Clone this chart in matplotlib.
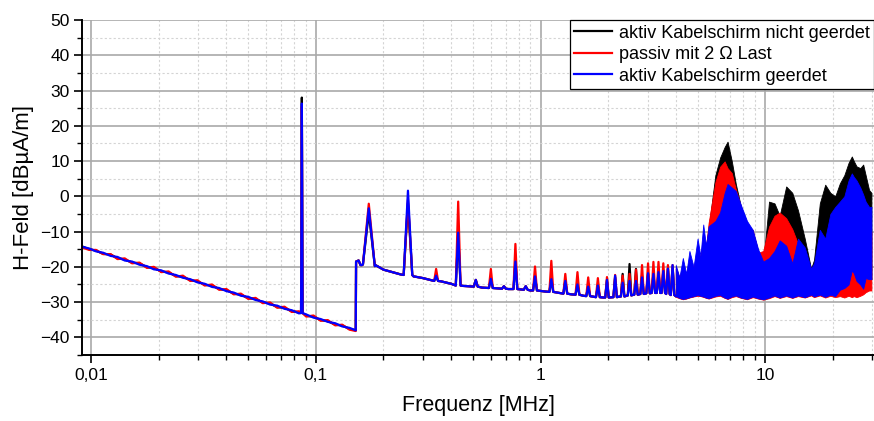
import numpy as np
import matplotlib
matplotlib.use("Agg")
import matplotlib.pyplot as plt
from matplotlib.ticker import FixedLocator, FuncFormatter, MultipleLocator

plt.rcParams['font.family'] = ['Liberation Sans', 'DejaVu Sans']

# --- Daten ---
labels = ["aktiv Kabelschirm nicht geerdet", "passiv mit 2 \u03a9 Last",
          "aktiv Kabelschirm geerdet"]
colors = ["black", "#ff0000", "#0000ff"]

# niederfrequenter Abfall bis 0,15 MHz
lf_f = [0.0091, 0.0098, 0.0105, 0.0113, 0.0122, 0.0131, 0.0141, 0.0152, 0.0164,
        0.0177, 0.019, 0.0205, 0.0221, 0.0238, 0.0256, 0.0276, 0.0297, 0.032,
        0.0345, 0.0371, 0.04, 0.0431, 0.0464, 0.05, 0.0539, 0.058, 0.0625,
        0.0673, 0.0725, 0.0781, 0.0841, 0.0906, 0.0976, 0.105, 0.113, 0.122,
        0.131, 0.141, 0.1505]
lf_black = [-14.2, -15.0, -15.4, -16.3, -16.5, -17.6, -17.9, -18.8, -19.0, -20.1,
            -20.3, -21.3, -21.6, -22.6, -22.8, -23.8, -24.1, -25.1, -25.3, -26.3,
            -26.6, -27.6, -27.9, -28.9, -29.1, -30.1, -30.4, -31.4, -31.6, -32.6,
            -32.9, -33.9, -34.1, -35.1, -35.4, -36.4, -36.6, -37.6, -38.0]
lf_red = [-14.5, -15.2, -15.2, -16.4, -16.4, -17.8, -17.6, -19.0, -18.8, -20.3,
          -20.0, -21.5, -21.3, -22.8, -22.5, -24.0, -23.8, -25.3, -25.0, -26.5,
          -26.3, -27.8, -27.6, -29.1, -28.8, -30.3, -30.1, -31.6, -31.3, -32.8,
          -32.6, -34.1, -33.8, -35.3, -35.1, -36.6, -36.4, -37.8, -38.2]
lf_blue = [-14.3, -14.8, -15.6, -16.0, -16.9, -17.2, -18.2, -18.5, -19.4, -19.8,
           -20.7, -21.0, -21.9, -22.3, -23.1, -23.5, -24.4, -24.8, -25.7, -26.0,
           -26.9, -27.3, -28.2, -28.5, -29.4, -29.8, -30.7, -31.0, -31.9, -32.3,
           -33.2, -33.5, -34.4, -34.8, -35.6, -36.0, -36.9, -37.3, -38.0]

# Grundlinie 0,15 ... 4 MHz
mid_f = [0.151, 0.155, 0.158, 0.162, 0.183, 0.2, 0.24, 0.272, 0.3, 0.36, 0.4,
         0.45, 0.55, 0.72, 0.9, 1.05, 1.37, 1.55, 1.9, 2.22, 2.6, 2.92, 3.44,
         3.78, 4.0]
mid_y = [-18.5, -18.2, -19.5, -19.3, -19.8, -20.8, -22.2, -22.7, -23.2, -24.1,
         -24.8, -25.4, -25.9, -26.3, -26.7, -27.0, -27.8, -28.2, -28.7, -28.5,
         -27.9, -27.6, -27.4, -27.9, -28.3]

# Spitzen (Oberwellen)
spike_f = [0.0866, 0.172, 0.257, 0.343, 0.43, 0.515, 0.601, 0.687, 0.773, 0.859,
           0.945, 1.117, 1.289, 1.46, 1.63, 1.80, 1.976, 2.148, 2.32, 2.49, 2.66,
           2.83, 3.01, 3.18, 3.35, 3.52, 3.69, 3.87]
spike_w = [1.008, 1.07, 1.045, 1.02, 1.025, 1.02, 1.02, 1.02, 1.02, 1.02, 1.02,
           1.02, 1.02, 1.02, 1.02, 1.02, 1.018, 1.018, 1.018, 1.018, 1.018,
           1.018, 1.018, 1.018, 1.018, 1.018, 1.018, 1.018]
spike_base = [-33.1, -19.5, -22.3, -24.0, -25.3, -25.6, -26.0, -26.2, -26.3,
              -26.5, -26.7, -27.1, -27.6, -27.9, -28.3, -28.6, -28.7, -28.6,
              -28.4, -28.1, -27.9, -27.7, -27.5, -27.4, -27.4, -27.4, -27.7, -28.0]
black_top = [28.0, -4.7, -1.9, -22.5, -11.0, -23.7, -23.4, -25.5, -18.5, -25.5,
             -22.7, -23.5, -24.0, -25.0, -25.6, -25.3, -23.7, -23.0, -22.0,
             -19.2, -20.6, -22.5, -22.0, -22.0, -21.5, -21.0, -20.5, -20.0]
red_top = [25.5, -2.1, -1.0, -20.6, -1.5, -23.7, -20.6, -25.5, -13.5, -25.5,
           -19.9, -18.3, -22.0, -21.5, -23.0, -23.2, -22.9, -22.3, -22.5, -22.0,
           -20.8, -19.5, -19.0, -18.6, -18.6, -19.0, -19.5, -19.5]
blue_top = [26.3, -3.4, 1.6, -22.5, -10.3, -23.7, -23.4, -25.5, -18.5, -25.5,
            -22.7, -23.5, -24.0, -25.0, -25.6, -25.3, -23.7, -22.5, -24.5,
            -24.0, -24.0, -23.0, -21.8, -22.0, -21.5, -21.2, -20.5, -19.5]

# dichter Bereich 4 ... 30 MHz (Hüllkurven)
dense_f = [4.0, 4.15, 4.3, 4.45, 4.6, 4.8, 5.0, 5.15, 5.3, 5.45, 5.6, 6.0, 6.3,
           6.6, 6.8, 7.1, 7.4, 7.8, 8.3, 8.8, 9.3, 9.8, 10.4, 11.0, 11.6, 12.4,
           13.2, 14.0, 15.0, 16.0, 16.5, 17.5, 18.5, 19.5, 20.5, 21.5, 22.5,
           23.5, 24.3, 24.8, 25.5, 26.5, 27.3, 28.0, 29.0, 29.7]
black_hi = [-20.5, -23.5, -20.5, -23.0, -18.0, -21.0, -15.0, -18.0, -12.0, -15.0,
            -9.0, 6.0, 11.0, 14.0, 15.5, 10.0, 3.5, -3.0, -7.5, -10.0, -15.5,
            -19.0, -1.5, -2.0, -5.5, 2.8, 1.0, -4.0, -12.0, -20.5, -18.0, -2.0,
            3.3, 1.0, 0.0, 3.7, 6.0, 9.5, 11.3, 10.0, 8.5, 8.0, 9.0, 6.0, 1.8,
            1.0]
red_hi = [-20.0, -23.0, -20.0, -22.5, -17.5, -20.5, -14.5, -17.5, -11.5, -14.5,
          -7.5, 4.0, 8.4, 9.9, 8.0, 6.6, 2.0, -3.0, -8.6, -9.5, -16.0, -15.5,
          -8.6, -5.5, -4.6, -6.2, -9.3, -13.5, -17.5, -20.5, -21.0, -19.0,
          -13.5, -15.0, -14.0, -12.0, -10.0, -8.0, -6.0, -6.0, -7.0, -8.0, -9.0,
          -10.0, -10.0, -10.0]
red_lo = [-28.5, -28.9, -29.2, -29.0, -28.7, -28.4, -28.2, -28.3, -28.5, -28.8,
          -29.0, -28.4, -28.2, -28.8, -29.1, -28.6, -28.3, -28.8, -29.2, -28.6,
          -29.0, -29.3, -28.9, -28.3, -28.8, -28.3, -28.8, -28.3, -28.7, -28.1,
          -28.6, -28.1, -28.7, -28.2, -28.6, -28.3, -28.7, -28.2, -28.6, -28.3,
          -28.6, -28.2, -27.8, -27.2, -26.7, -26.7]
blue_hi = [-19.5, -23.0, -17.5, -22.0, -15.5, -20.0, -12.0, -17.0, -8.0, -14.0,
           -8.5, -7.0, -4.5, 1.0, 3.5, 2.5, 1.5, -2.5, -7.0, -9.5, -15.0, -18.5,
           -17.5, -15.5, -12.5, -14.0, -19.0, -12.0, -14.5, -20.5, -19.0, -9.5,
           -12.0, -5.0, -3.0, -1.5, 0.0, 4.5, 6.5, 5.5, 4.5, 2.5, 0.5, -1.5,
           -3.0, -3.0]
blue_lo = [-28.3, -28.8, -29.1, -28.9, -28.6, -28.3, -28.0, -28.2, -28.4, -28.7,
           -28.9, -28.2, -28.0, -28.7, -29.0, -28.4, -28.1, -28.7, -29.1, -28.4,
           -28.9, -29.2, -28.7, -28.1, -28.7, -28.1, -28.7, -28.1, -28.6, -27.9,
           -28.4, -27.9, -28.5, -27.9, -28.3, -26.5, -26.0, -25.0, -21.0, -21.8,
           -24.0, -25.0, -26.2, -23.2, -23.5, -23.5]


def build_series(lf_y, tops):
    pts = list(zip(lf_f, lf_y)) + list(zip(mid_f, mid_y))
    for f, w, b, t in zip(spike_f, spike_w, spike_base, tops):
        pts += [(f / w, b), (f, t), (f * w, b)]
    pts.sort()
    arr = np.array(pts)
    return arr[:, 0], arr[:, 1]


fig = plt.figure(figsize=(8.74, 4.21), dpi=100)
ax = fig.add_axes([82 / 874, 66 / 421, 792 / 874, 335 / 421])

series = [(lf_black, black_top, black_hi, blue_lo),
          (lf_red, red_top, red_hi, red_lo),
          (lf_blue, blue_top, blue_hi, blue_lo)]
for i, (lf_y, tops, hi, lo) in enumerate(series):
    x, y = build_series(lf_y, tops)
    ax.plot(x, y, color=colors[i], lw=1.6, label=labels[i], zorder=3 + i)
    ax.fill_between(dense_f, lo, hi, color=colors[i], lw=0.6,
                    edgecolor=colors[i], zorder=3 + i)

ax.set_xscale('log')
ax.set_xlim(0.0091, 30.5)
ax.set_ylim(-45, 50)

ax.yaxis.set_major_locator(MultipleLocator(10))
ax.yaxis.set_minor_locator(MultipleLocator(5))
ax.xaxis.set_major_locator(FixedLocator([0.01, 0.1, 1, 10]))
ax.xaxis.set_major_formatter(FuncFormatter(
    lambda v, p: {0.01: "0,01", 0.1: "0,1", 1: "1", 10: "10"}.get(round(v, 3), "")))

ax.grid(which='major', color='#a9a9a9', lw=1.2, zorder=0)
ax.grid(which='minor', color='#d4d4d4', lw=0.8, ls=(0, (2, 2)), zorder=0)
ax.set_axisbelow(True)

for s in ['top', 'right']:
    ax.spines[s].set_visible(False)
for s in ['left', 'bottom']:
    ax.spines[s].set_linewidth(1.4)
    ax.spines[s].set_zorder(10)

ax.tick_params(which='major', direction='out', length=6, width=1.2,
               labelsize=12.5, pad=3)
ax.tick_params(which='minor', direction='out', length=3.5, width=1.0)

ax.set_ylabel("H-Feld [dB\u00b5A/m]", fontsize=16, labelpad=4)
ax.set_xlabel("Frequenz [MHz]", fontsize=15.5, labelpad=9)

leg = ax.legend(loc='upper right', fontsize=13, frameon=True, fancybox=False,
                edgecolor='black', framealpha=1, borderaxespad=0.0,
                handlelength=2.1, handletextpad=0.35, labelspacing=0.25,
                borderpad=0.25)
leg.get_frame().set_linewidth(0.9)
leg.set_zorder(20)

fig.savefig("out.png", dpi=100)
